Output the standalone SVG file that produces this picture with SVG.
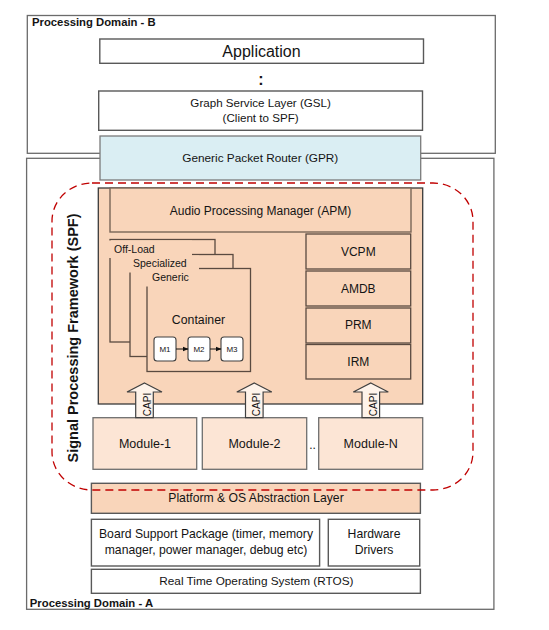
<svg xmlns="http://www.w3.org/2000/svg" width="549" height="630" viewBox="0 0 549 630">
<style>
text{font-family:"Liberation Sans",Arial,sans-serif;fill:#141414}
.dom{fill:#fff;stroke:#6b6b6b;stroke-width:1.3}
.wbox{fill:#fff;stroke:#595959;stroke-width:1.4}
.peach{fill:#F9D5BA;stroke:#3a3a3a;stroke-width:1.3}
.stk{fill:#F9D5BA;stroke:#5a4a40;stroke-width:1.3}
.bg{fill:#F9D5BA;stroke:none}
.mod{fill:#FCE5D5;stroke:#6e6e6e;stroke-width:1.3}
.mm{fill:#fff;stroke:#404040;stroke-width:1.1}
.capi{fill:#FEF3EA;stroke:#404040;stroke-width:1.2}
.t{text-anchor:middle}
.b{font-weight:bold}
</style>
<defs>
<marker id="ah" markerWidth="6" markerHeight="6" refX="5.5" refY="3" orient="auto" markerUnits="userSpaceOnUse">
<path d="M0,0.5 L6,3 L0,5.5 Z" fill="#111"/>
</marker>
</defs>

<g id="domain-b">
<rect class="dom" x="27.3" y="15.5" width="468" height="137.8"/>
<text class="b" x="32" y="26" font-size="11.3">Processing Domain - B</text>
</g>
<g id="domain-a">
<rect class="dom" x="26.6" y="158.3" width="467.3" height="451"/>
<text class="b" x="29.8" y="606.5" font-size="11.3">Processing Domain - A</text>
</g>

<g id="application">
<rect class="wbox" x="99.8" y="39" width="323.7" height="24.3"/>
<text class="t" x="261.5" y="56.5" font-size="16">Application</text>
</g>
<text class="t b" x="261" y="85" font-size="16">:</text>

<g id="gsl">
<rect class="wbox" x="98.7" y="91" width="323.8" height="39.3"/>
<text class="t" x="260.6" y="106.5" font-size="11.6">Graph Service Layer (GSL)</text>
<text class="t" x="260.6" y="122" font-size="11.6">(Client to SPF)</text>
</g>

<g id="gpr">
<rect x="100" y="136" width="320.7" height="44" fill="#DAEEF3" stroke="#7a7a7a" stroke-width="1.3"/>
<text class="t" x="260.3" y="161.5" font-size="11.8">Generic Packet Router (GPR)</text>
</g>

<g id="spf-core">
<rect class="peach" x="98.3" y="188" width="324.4" height="216" stroke="#1e1e1e"/>
</g>

<g id="apm">
<rect x="110" y="188" width="301" height="44" fill="#F9D5BA" stroke="#7a6558" stroke-width="1.4"/>
<text class="t" x="260.5" y="214.5" font-size="12">Audio Processing Manager (APM)</text>
</g>

<g id="containers">
<rect class="stk" x="110" y="239.5" width="105" height="102.5"/>
<rect class="stk" x="130" y="254.5" width="103" height="102"/>
<rect class="stk" x="147" y="268.5" width="103.5" height="103"/>
<rect class="bg" x="108.5" y="240.5" width="83.5" height="17.5"/>
<rect class="bg" x="128.5" y="255.5" width="70.5" height="17"/>
<rect class="bg" x="145.5" y="269.5" width="52" height="17"/>
<text x="114" y="252.5" font-size="10.5">Off-Load</text>
<text x="133" y="266.5" font-size="10.5">Specialized</text>
<text x="152" y="280.5" font-size="10.5">Generic</text>
<text class="t" x="198.5" y="324" font-size="12.3">Container</text>
</g>

<g id="m1">
<rect class="mm" x="154" y="337" width="22" height="24" rx="3"/>
<text class="t" x="165" y="352" font-size="8">M1</text>
</g>
<g id="m2">
<rect class="mm" x="188" y="337" width="22" height="24" rx="3"/>
<text class="t" x="199" y="352" font-size="8">M2</text>
</g>
<g id="m3">
<rect class="mm" x="221" y="337" width="22" height="24" rx="3"/>
<text class="t" x="232" y="352" font-size="8">M3</text>
</g>

<g id="vcpm">
<rect class="stk" x="306" y="234" width="104.7" height="35" stroke="#333"/>
<text class="t" x="358.3" y="256" font-size="12">VCPM</text>
</g>
<g id="amdb">
<rect class="stk" x="306" y="271" width="104.7" height="35" stroke="#333"/>
<text class="t" x="358.3" y="293" font-size="12">AMDB</text>
</g>
<g id="prm">
<rect class="stk" x="306" y="308" width="104.7" height="35" stroke="#333"/>
<text class="t" x="358.3" y="328.5" font-size="12">PRM</text>
</g>
<g id="irm">
<rect class="stk" x="306" y="344.5" width="104.7" height="34.5" stroke="#333"/>
<text class="t" x="358.3" y="365.5" font-size="12">IRM</text>
</g>

<g id="module-1">
<rect class="mod" x="93" y="417.7" width="103.7" height="51.6"/>
<text class="t" x="145" y="447.5" font-size="12.5">Module-1</text>
</g>
<g id="module-2">
<rect class="mod" x="202.3" y="417.7" width="104.4" height="51.6"/>
<text class="t" x="254.5" y="447.5" font-size="12.5">Module-2</text>
</g>
<g id="module-n">
<rect class="mod" x="318.7" y="417.7" width="104" height="51.6"/>
<text class="t" x="370.7" y="447.5" font-size="12.5">Module-N</text>
</g>
<text class="t" x="312.5" y="448.5" font-size="12">..</text>

<g id="connectors">
<line x1="176" y1="349" x2="188" y2="349" stroke="#111" stroke-width="1" marker-end="url(#ah)"/>
<line x1="210" y1="349" x2="221" y2="349" stroke="#111" stroke-width="1" marker-end="url(#ah)"/>
<path class="capi" d="M144.5,383 L162,392 L153.3,392 L153.3,417.7 L135.7,417.7 L135.7,392 L127,392 Z"/>
<path class="capi" d="M254.3,383 L271.8,392 L263.1,392 L263.1,417.7 L245.5,417.7 L245.5,392 L236.8,392 Z"/>
<path class="capi" d="M370.8,383 L388.3,392 L379.6,392 L379.6,417.7 L362,417.7 L362,392 L353.3,392 Z"/>
<text class="t" transform="translate(150.5,404.5) rotate(-90)" font-size="10">CAPI</text>
<text class="t" transform="translate(260.3,404.5) rotate(-90)" font-size="10">CAPI</text>
<text class="t" transform="translate(376.8,404.5) rotate(-90)" font-size="10">CAPI</text>
</g>

<g id="platform">
<rect x="91.4" y="483.3" width="329" height="30" fill="#F9D5BA" stroke="#595959" stroke-width="1.4"/>
<text class="t" x="256" y="502" font-size="12.2">Platform &amp; OS Abstraction Layer</text>
</g>

<g id="spf-boundary">
<rect x="52" y="183" width="421" height="307" rx="40" ry="38" fill="none" stroke="#C00000" stroke-width="1.3" stroke-dasharray="8 5"/>
<text class="t b" transform="translate(78,338) rotate(-90)" font-size="14.5">Signal Processing Framework (SPF)</text>
</g>

<g id="bsp">
<rect class="wbox" x="91.4" y="519.3" width="228.2" height="46.7"/>
<text class="t" x="206" y="537.5" font-size="12.2">Board Support Package (timer, memory</text>
<text class="t" x="206" y="553.5" font-size="12.2">manager, power manager, debug etc)</text>
</g>
<g id="hw-drivers">
<rect class="wbox" x="328.3" y="519.3" width="91.4" height="46.7"/>
<text class="t" x="374" y="537.5" font-size="12.2">Hardware</text>
<text class="t" x="374" y="553.5" font-size="12.2">Drivers</text>
</g>
<g id="rtos">
<rect class="wbox" x="91.4" y="569.3" width="329" height="24"/>
<text class="t" x="256.4" y="585" font-size="11.8">Real Time Operating System (RTOS)</text>
</g>
</svg>
